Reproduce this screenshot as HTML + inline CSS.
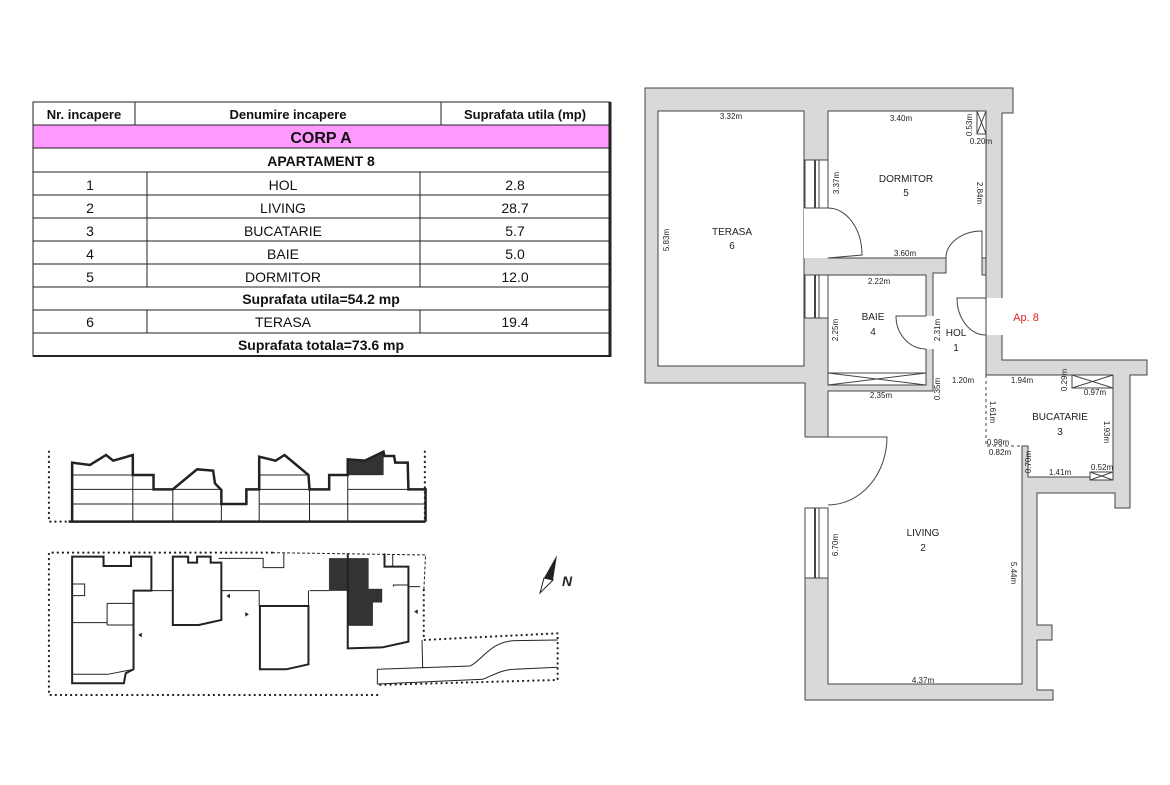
<!DOCTYPE html>
<html><head><meta charset="utf-8"><style>
html,body{margin:0;padding:0;background:#fff;}
svg{display:block;font-family:"Liberation Sans",sans-serif;}
</style></head><body>
<svg width="1170" height="785" viewBox="0 0 1170 785" xmlns="http://www.w3.org/2000/svg">
<!-- TABLE -->
<g stroke="#222" stroke-width="1" fill="none">
<rect x="33" y="125" width="577" height="23" fill="#ff99ff" stroke="none"/>
<rect x="33" y="102" width="577" height="254"/>
<line x1="610" y1="102" x2="610" y2="357" stroke-width="3"/>
<line x1="33" y1="356" x2="610" y2="356" stroke-width="2"/>
<line x1="33" y1="125" x2="610" y2="125"/>
<line x1="33" y1="148" x2="610" y2="148"/>
<line x1="33" y1="172" x2="610" y2="172"/>
<line x1="33" y1="195" x2="610" y2="195"/>
<line x1="33" y1="218" x2="610" y2="218"/>
<line x1="33" y1="241" x2="610" y2="241"/>
<line x1="33" y1="264" x2="610" y2="264"/>
<line x1="33" y1="287" x2="610" y2="287"/>
<line x1="33" y1="310" x2="610" y2="310"/>
<line x1="33" y1="333" x2="610" y2="333"/>
<line x1="135" y1="102" x2="135" y2="125"/>
<line x1="441" y1="102" x2="441" y2="125"/>
<line x1="147" y1="172" x2="147" y2="287"/>
<line x1="420" y1="172" x2="420" y2="287"/>
<line x1="147" y1="310" x2="147" y2="333"/>
<line x1="420" y1="310" x2="420" y2="333"/>
</g>
<g fill="#111" text-anchor="middle" font-size="14">
<text x="84" y="119" font-weight="bold" font-size="13">Nr. incapere</text>
<text x="288" y="119" font-weight="bold" font-size="13">Denumire incapere</text>
<text x="525" y="119" font-weight="bold" font-size="13">Suprafata utila (mp)</text>
<text x="321" y="143" font-weight="bold" font-size="16">CORP A</text>
<text x="321" y="166" font-weight="bold">APARTAMENT 8</text>
<text x="90" y="190">1</text><text x="283" y="190">HOL</text><text x="515" y="190">2.8</text>
<text x="90" y="213">2</text><text x="283" y="213">LIVING</text><text x="515" y="213">28.7</text>
<text x="90" y="236">3</text><text x="283" y="236">BUCATARIE</text><text x="515" y="236">5.7</text>
<text x="90" y="259">4</text><text x="283" y="259">BAIE</text><text x="515" y="259">5.0</text>
<text x="90" y="282">5</text><text x="283" y="282">DORMITOR</text><text x="515" y="282">12.0</text>
<text x="321" y="304" font-weight="bold">Suprafata utila=54.2 mp</text>
<text x="90" y="327">6</text><text x="283" y="327">TERASA</text><text x="515" y="327">19.4</text>
<text x="321" y="350" font-weight="bold">Suprafata totala=73.6 mp</text>
</g>

<!-- FLOOR PLAN -->
<g stroke="#444" stroke-width="1">
<polygon fill="#d9d9d9" points="645,88 1013,88 1013,113 1002,113 1002,360 1147,360 1147,375 1130,375 1130,508 1115,508 1115,493 1037,493 1037,625 1052,625 1052,640 1037,640 1037,690 1053,690 1053,700 805,700 805,383 645,383"/>
<rect x="658" y="111" width="146" height="255" fill="#fff"/>
<polygon fill="#fff" points="828,111 986,111 986,375 1113,375 1113,477 1028,477 1028,446 1022,446 1022,684 828,684 828,391 933,391 933,273 946,273 946,258 828,258"/>
<rect x="828" y="275" width="98" height="110" fill="#fff"/>
</g>
<g fill="#fff" stroke="none">
<rect x="986.5" y="298" width="16" height="37"/>
<rect x="804" y="208" width="25" height="50"/>
<rect x="804" y="437" width="25" height="71"/>
<rect x="925.5" y="316" width="8" height="33"/>
<rect x="946.5" y="258.5" width="36" height="14"/>
</g>
<g stroke="#444" stroke-width="1" fill="none">
<rect x="982" y="258" width="4" height="17" fill="#d9d9d9"/>
<rect x="805" y="160" width="23" height="48" fill="#fff"/>
<line x1="815" y1="160" x2="815" y2="208" stroke-width="2"/><line x1="819" y1="160" x2="819" y2="208"/>
<rect x="805" y="275" width="23" height="43" fill="#fff"/>
<line x1="815" y1="275" x2="815" y2="318" stroke-width="2"/><line x1="819" y1="275" x2="819" y2="318"/>
<rect x="805" y="508" width="23" height="70" fill="#fff"/>
<line x1="815" y1="508" x2="815" y2="578" stroke-width="2"/><line x1="819" y1="508" x2="819" y2="578"/>
<path d="M805,208 L828,208 A34,47 0 0 1 862,255 L828,258"/>
<path d="M805,437 L887,437 A59,68 0 0 1 828,505"/>
<path d="M926,316 L896,316 A30,33 0 0 0 926,349"/>
<path d="M946,258 A36,27 0 0 1 982,231 L982,258"/>
<path d="M986,298 L957,298 A29,37 0 0 0 986,335"/>
<rect x="977" y="111" width="9" height="23" fill="#fff"/><path d="M977,111 L986,134 M986,111 L977,134"/>
<rect x="828" y="373" width="98" height="12" fill="#fff"/><path d="M828,373 L926,385 M926,373 L828,385"/>
<rect x="1072" y="375" width="41" height="13" fill="#fff"/><path d="M1072,375 L1113,388 M1113,375 L1072,388"/>
<rect x="1090" y="472" width="23" height="8" fill="#fff"/><path d="M1090,472 L1113,480 M1113,472 L1090,480"/>
<path d="M986,375 L986,446 L1022,446" stroke-dasharray="3,3"/>
</g>
<g fill="#222" font-size="10" text-anchor="middle">
<text x="732" y="235">TERASA</text><text x="732" y="249">6</text>
<text x="906" y="182">DORMITOR</text><text x="906" y="196">5</text>
<text x="873" y="320">BAIE</text><text x="873" y="335">4</text>
<text x="956" y="336">HOL</text><text x="956" y="351">1</text>
<text x="1060" y="420">BUCATARIE</text><text x="1060" y="435">3</text>
<text x="923" y="536">LIVING</text><text x="923" y="551">2</text>
<text x="1026" y="321" fill="#e02020" font-size="11">Ap. 8</text>
</g>
<g fill="#222" font-size="8" text-anchor="middle">
<text x="731" y="119">3.32m</text>
<text x="901" y="121">3.40m</text>
<text x="981" y="144">0.20m</text>
<text x="905" y="256">3.60m</text>
<text x="879" y="284">2.22m</text>
<text x="963" y="383">1.20m</text>
<text x="1022" y="383">1.94m</text>
<text x="1095" y="395">0.97m</text>
<text x="881" y="398">2.35m</text>
<text x="998" y="445">0.98m</text>
<text x="1000" y="455">0.82m</text>
<text x="1060" y="475">1.41m</text>
<text x="1102" y="470">0.52m</text>
<text x="923" y="683">4.37m</text>
<text transform="translate(669,240) rotate(-90)">5.83m</text>
<text transform="translate(839,183) rotate(-90)">3.37m</text>
<text transform="translate(838,330) rotate(-90)">2.25m</text>
<text transform="translate(940,330) rotate(-90)">2.31m</text>
<text transform="translate(940,389) rotate(-90)">0.35m</text>
<text transform="translate(972,125) rotate(-90)">0.53m</text>
<text transform="translate(1067,380) rotate(-90)">0.29m</text>
<text transform="translate(838,545) rotate(-90)">6.70m</text>
<text transform="translate(1031,462) rotate(-90)">0.70m</text>
<text transform="translate(977,193) rotate(90)">2.84m</text>
<text transform="translate(990,412) rotate(90)">1.61m</text>
<text transform="translate(1104,432) rotate(90)">1.93m</text>
<text transform="translate(1011,573) rotate(90)">5.44m</text>
</g>

<!-- SITE PLAN -->
<g transform="translate(40,440) scale(0.357,0.3333)" fill="none" stroke="#222">
<g stroke-width="2.2" stroke-dasharray="0.1,5" stroke-linecap="round">
<path vector-effect="non-scaling-stroke" d="M25,35 L25,245 L80,245"/>
<path vector-effect="non-scaling-stroke" d="M1078,35 L1078,245"/>
<path vector-effect="non-scaling-stroke" d="M650,338 L25,338 L25,765 L945,765"/>
<path vector-effect="non-scaling-stroke" d="M1075,450 L1075,600 L1450,580 L1450,720 L945,735"/>
</g>
<path d="M650,338 L1080,345 L1075,455" stroke-dasharray="3,2" stroke-width="1" vector-effect="non-scaling-stroke"/>
<polygon fill="#333" points="862,58 910,62 962,35 962,105 862,105"/>
<polygon fill="#333" points="810,355 920,355 920,447 958,447 958,487 932,487 932,557 862,557 862,452 810,452"/>
<g stroke-width="2">
<path vector-effect="non-scaling-stroke" stroke-width="2.5" d="M80,245 L1080,245 M90,245 L90,68 L140,75 L185,45 L205,62 L260,45 L260,105 L318,105 L318,148 L372,148 L440,88 L485,92 L490,130 L508,150 L508,192 L578,192 L578,148 L614,148 L614,50 L660,62 L685,45 L752,105 L755,148 L810,148 L810,105 L862,105 L862,58 L910,62 L962,35 L965,48 L992,48 L995,68 L1030,68 L1032,148 L1080,148 L1080,245"/>
<path vector-effect="non-scaling-stroke" d="M90,350 L178,350 L178,378 L255,378 L255,350 L312,350 L312,452 L262,452 L262,688 L240,700 L235,730 L90,730 Z"/>
<path vector-effect="non-scaling-stroke" d="M372,350 L415,350 L415,368 L440,368 L440,350 L478,350 L478,368 L508,368 L508,540 L445,555 L372,555 Z"/>
<path vector-effect="non-scaling-stroke" d="M616,498 L752,498 L752,673 L690,688 L616,688 Z"/>
<path vector-effect="non-scaling-stroke" d="M862,340 L862,625 L960,622 L1032,605 L1032,380 L965,380 L965,340"/>
</g>
<g stroke-width="1">
<path vector-effect="non-scaling-stroke" d="M90,105 L260,105 M90,148 L318,148 M90,192 L508,192 M372,148 L508,148 M614,105 L752,105 M614,148 L755,148 M614,192 L1080,192 M862,148 L1032,148 M260,105 L260,245 M372,148 L372,245 M508,192 L508,245 M614,148 L614,245 M755,148 L755,245 M862,105 L862,245 M810,105 L810,148 M580,148 L580,192"/>
<path vector-effect="non-scaling-stroke" d="M90,432 L125,432 L125,467 L90,467 M188,555 L188,490 L262,490 M188,555 L262,555 M90,548 L188,548 M90,703 L190,703 L262,688 M312,452 L372,452 M508,452 L614,452 L614,498 M755,452 L810,452 M752,498 L752,452 M500,355 L625,355 L625,383 L683,383 L683,338 M988,345 L988,380 M990,440 L990,435 L1032,435 M1032,440 L1065,440"/>
<path vector-effect="non-scaling-stroke" d="M945,688 L945,732 L1240,718 C1280,700 1300,688 1330,688 L1450,682 M945,688 L1205,678 C1240,660 1260,605 1330,602 L1450,600 M1070,600 L1072,685"/>
</g>
<g fill="#222" stroke="none">
<polygon points="275,585 285,578 285,592"/>
<polygon points="522,468 532,461 532,475"/>
<polygon points="585,523 575,516 575,530"/>
<polygon points="1048,515 1058,508 1058,522"/>
</g>
</g>
<polygon points="557,555 544,578 553,580" fill="#222"/>
<polygon points="544,578 553,580 540,593" fill="#fff" stroke="#222" stroke-width="1"/>
<text x="562" y="586" font-size="14" font-weight="bold" font-style="italic" fill="#222">N</text>
</svg>
</body></html>
